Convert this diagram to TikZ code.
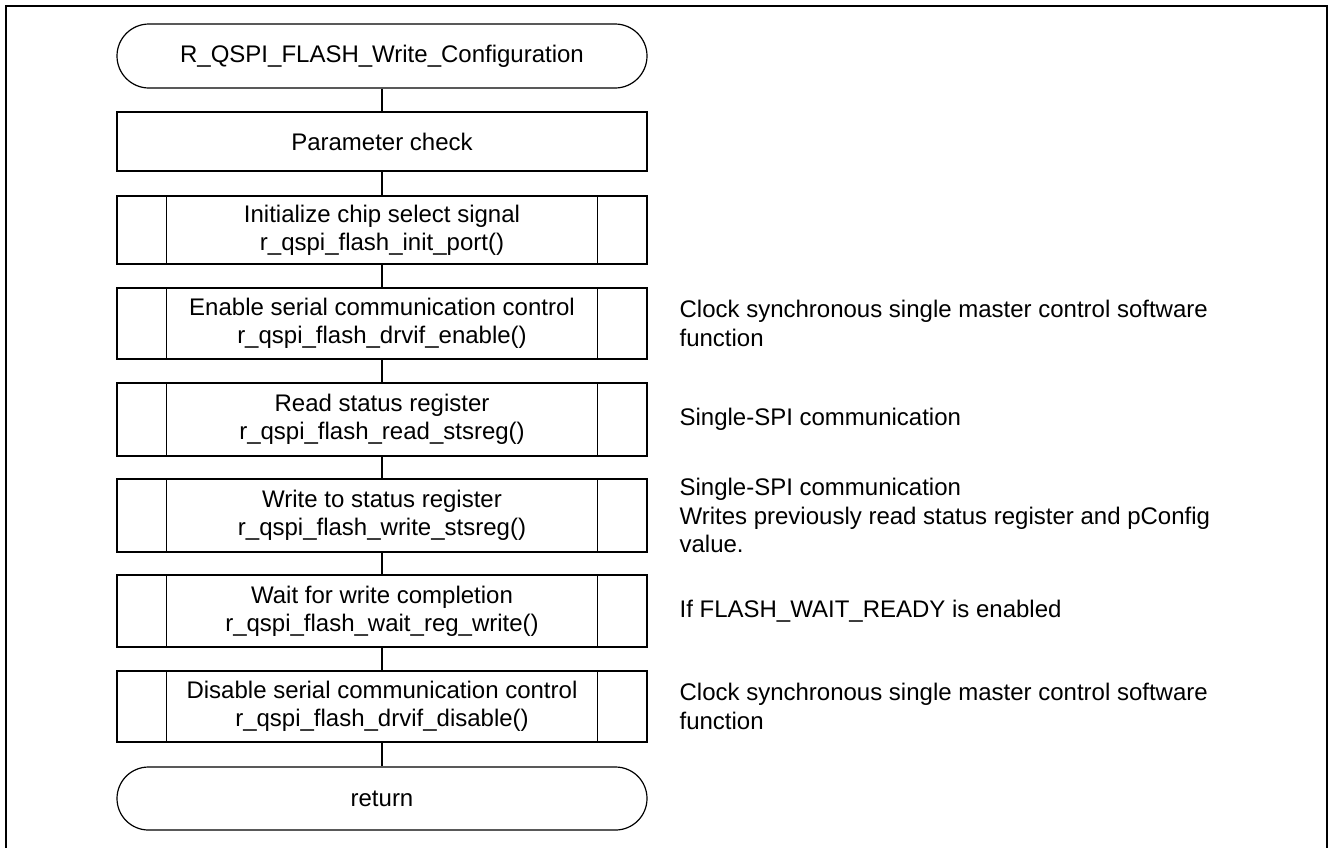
\documentclass[tikz,border=0pt]{standalone}
\usepackage{fontspec}
\setmainfont{Liberation Sans}

\begin{document}
\begin{tikzpicture}[x=0.5pt, y=-0.5pt, line width=0.6pt,
    box/.style={draw=black, rectangle, minimum width=265pt, inner sep=0pt, align=center, font=\fontsize{12}{14}\selectfont},
    terminal/.style={box, rounded corners=16pt},
    note/.style={anchor=west, inner sep=0pt, align=left, font=\fontsize{12}{14.25}\selectfont}]

      % page size and frame
      \useasboundingbox (0, 0) rectangle (1328, 847);
      \clip (0, 0) rectangle (1328, 847);
      \draw [line width=1pt] (6, 870) -- (6, 6) -- (1327, 6) -- (1327, 870);

      % flow
      \node [terminal, minimum height=32pt, name=start] at (382, 56) {R\_QSPI\_FLASH\_Write\_Configuration};
      \node [box, minimum height=29.5pt, name=param] at (382, 141.5) {Parameter check};
      \node [box, minimum height=34pt, name=init] at (382, 230) {Initialize chip select signal\\r\_qspi\_flash\_init\_port()};
      \node [box, minimum height=35.5pt, name=enable] at (382, 323.5) {Enable serial communication control\\r\_qspi\_flash\_drvif\_enable()};
      \node [box, minimum height=36.5pt, name=read] at (382, 419.5) {Read status register\\r\_qspi\_flash\_read\_stsreg()};
      \node [box, minimum height=36.5pt, name=write] at (382, 515.5) {Write to status register\\r\_qspi\_flash\_write\_stsreg()};
      \node [box, minimum height=36pt, name=wait] at (382, 611) {Wait for write completion\\r\_qspi\_flash\_wait\_reg\_write()};
      \node [box, minimum height=35.5pt, name=disable] at (382, 706.5) {Disable serial communication control\\r\_qspi\_flash\_drvif\_disable()};
      \node [terminal, minimum height=31.5pt, rounded corners=15.75pt, name=return] at (382, 798.5) {return};

      % side bars of the function boxes
      \foreach \n in {init, enable, read, write, wait, disable} {
        \draw ([xshift=25pt]\n.north west) -- ([xshift=25pt]\n.south west);
        \draw ([xshift=-25pt]\n.north east) -- ([xshift=-25pt]\n.south east);
      }

      % connections
      \foreach \a/\b in {start/param, param/init, init/enable, enable/read, read/write, write/wait, wait/disable, disable/return}
        \draw (\a) -- (\b);

      % notes
      \node [note, name=n_enable] at (679, 323.5) {Clock synchronous single master control software\\function};
      \node [note, name=n_read] at (679, 419.5) {Single-SPI communication};
      \node [note, name=n_write] at (679, 515.5) {Single-SPI communication\\Writes previously read status register and pConfig\\value.};
      \node [note, name=n_wait] at (679, 611) {If FLASH\_WAIT\_READY is enabled};
      \node [note, name=n_disable] at (679, 706.5) {Clock synchronous single master control software\\function};

\end{tikzpicture}
\end{document}
